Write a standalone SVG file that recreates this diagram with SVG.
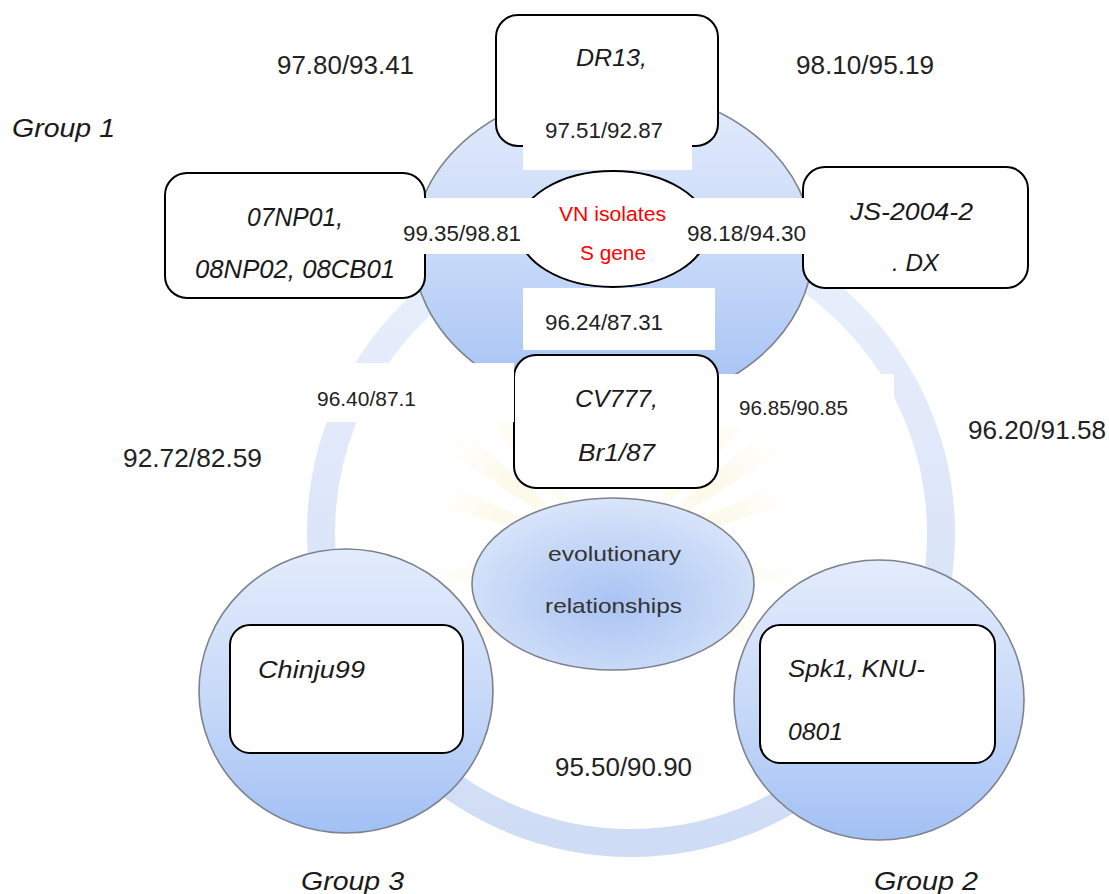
<svg xmlns="http://www.w3.org/2000/svg" width="1109" height="894" viewBox="0 0 1109 894">
<defs>
<linearGradient id="gBlue" x1="0" y1="0" x2="0" y2="1">
<stop offset="0" stop-color="#e3ecfc"/>
<stop offset="0.55" stop-color="#c6d8f8"/>
<stop offset="1" stop-color="#a2c0f4"/>
</linearGradient>
<linearGradient id="gRing" x1="0" y1="0" x2="0" y2="1">
<stop offset="0" stop-color="#eaf0fc"/>
<stop offset="1" stop-color="#cfdcf5"/>
</linearGradient>
<radialGradient id="gEvo" cx="0.5" cy="0.6" r="0.6">
<stop offset="0" stop-color="#a9c3f3"/>
<stop offset="1" stop-color="#d9e5fa"/>
</radialGradient>
<radialGradient id="gRay" cx="0.5" cy="0.5" r="0.5">
<stop offset="0.2" stop-color="#f7eab4" stop-opacity="0.25"/>
<stop offset="1" stop-color="#f7eab4" stop-opacity="0"/>
</radialGradient>
<style>
.bub{fill:url(#gBlue);stroke:#7d828c;stroke-width:1.6}
.box{fill:#fff;stroke:#000;stroke-width:2}
.wh{fill:#fff}
.num{font-family:"Liberation Sans",Arial,sans-serif;fill:#222}
.it{font-family:"Liberation Sans",Arial,sans-serif;font-style:italic;fill:#1a1a1a}
.red{font-family:"Liberation Sans",Arial,sans-serif;fill:#f00}
.evo{font-family:"Liberation Sans",Arial,sans-serif;fill:#333}
</style>
</defs>
<rect width="1109" height="894" fill="#fff"/>

<g id="watermark" fill="url(#gRay)">
<path d="M613 560 L420 470 L425 500 Z"/>
<path d="M613 560 L440 410 L430 440 Z"/>
<path d="M613 560 L480 370 L465 395 Z"/>
<path d="M613 560 L760 370 L775 395 Z"/>
<path d="M613 560 L790 410 L800 440 Z"/>
<path d="M613 560 L805 470 L800 500 Z"/>
<path d="M613 560 L420 560 L425 590 Z"/>
<path d="M613 560 L805 560 L800 590 Z"/>
<path d="M613 560 L430 640 L445 665 Z"/>
<path d="M613 560 L795 640 L780 665 Z"/>
</g>

<g id="connectors">
<circle cx="631" cy="533" r="310" fill="none" stroke="url(#gRing)" stroke-width="28"/>
</g>

<g id="group3">
<ellipse class="bub" cx="346" cy="691" rx="147" ry="142"/>
<rect class="box" x="230" y="625" width="233" height="128" rx="20"/>
<text class="it" x="258" y="678" font-size="23" textLength="107" lengthAdjust="spacingAndGlyphs">Chinju99</text>
</g>

<g id="group2">
<ellipse class="bub" cx="879" cy="700" rx="145" ry="140"/>
<rect class="box" x="760" y="625" width="235" height="138" rx="20"/>
<text class="it" x="788" y="677" font-size="23" textLength="137" lengthAdjust="spacingAndGlyphs">Spk1, KNU-</text>
<text class="it" x="788" y="740" font-size="23" textLength="55" lengthAdjust="spacingAndGlyphs">0801</text>
</g>

<g id="evolutionary">
<ellipse cx="613" cy="584" rx="141" ry="86" fill="url(#gEvo)" stroke="#7d828c" stroke-width="1.6"/>
<text class="evo" x="548" y="561" font-size="21" textLength="133" lengthAdjust="spacingAndGlyphs">evolutionary</text>
<text class="evo" x="545" y="613" font-size="21" textLength="137" lengthAdjust="spacingAndGlyphs">relationships</text>
</g>

<g id="group1">
<ellipse class="bub" cx="613" cy="248" rx="200" ry="160"/>
</g>

<g id="box-dr13">
<rect class="box" x="496" y="15" width="222" height="131" rx="22"/>
<text class="it" x="576" y="66" font-size="24" textLength="71" lengthAdjust="spacingAndGlyphs">DR13,</text>
</g>

<g id="box-07np01">
<rect class="box" x="165" y="173" width="260" height="125" rx="22"/>
<text class="it" x="247" y="226" font-size="25" textLength="96" lengthAdjust="spacingAndGlyphs">07NP01,</text>
<text class="it" x="195" y="278" font-size="25" textLength="200" lengthAdjust="spacingAndGlyphs">08NP02, 08CB01</text>
</g>

<g id="box-js2004">
<rect class="box" x="803" y="167" width="225" height="121" rx="22"/>
<text class="it" x="850" y="220" font-size="24" textLength="123" lengthAdjust="spacingAndGlyphs">JS-2004-2</text>
<text class="it" x="892" y="271" font-size="24" textLength="47" lengthAdjust="spacingAndGlyphs">. DX</text>
</g>

<g id="box-cv777">
<rect class="box" x="514" y="355" width="204" height="133" rx="22"/>
<text class="it" x="575" y="407" font-size="24" textLength="83" lengthAdjust="spacingAndGlyphs">CV777,</text>
<text class="it" x="578" y="461" font-size="24" textLength="77" lengthAdjust="spacingAndGlyphs">Br1/87</text>
</g>

<g id="vn-isolates">
<ellipse cx="613" cy="229" rx="95" ry="58" fill="#fff" stroke="#000" stroke-width="2"/>
</g>

<g id="labels">
<rect class="wh" x="523" y="118" width="169" height="52"/>
<rect class="wh" x="412" y="198" width="397" height="56"/>
<rect class="wh" x="523" y="288" width="192" height="62"/>
<rect class="wh" x="303" y="363" width="211" height="59"/>
<rect class="wh" x="719" y="374" width="175" height="54"/>

<text class="red" x="559" y="221" font-size="20.5" textLength="107" lengthAdjust="spacingAndGlyphs">VN isolates</text>
<text class="red" x="580" y="260" font-size="20.5" textLength="66" lengthAdjust="spacingAndGlyphs">S gene</text>

<text class="num" x="545" y="138" font-size="22" textLength="118" lengthAdjust="spacingAndGlyphs">97.51/92.87</text>
<text class="num" x="403" y="241" font-size="22" textLength="118" lengthAdjust="spacingAndGlyphs">99.35/98.81</text>
<text class="num" x="687" y="241" font-size="22" textLength="119" lengthAdjust="spacingAndGlyphs">98.18/94.30</text>
<text class="num" x="545" y="330" font-size="22" textLength="118" lengthAdjust="spacingAndGlyphs">96.24/87.31</text>
<text class="num" x="317" y="406" font-size="20" textLength="99" lengthAdjust="spacingAndGlyphs">96.40/87.1</text>
<text class="num" x="739" y="415" font-size="20" textLength="109" lengthAdjust="spacingAndGlyphs">96.85/90.85</text>

<text class="num" x="277" y="74" font-size="25" textLength="137" lengthAdjust="spacingAndGlyphs">97.80/93.41</text>
<text class="num" x="796" y="74" font-size="25" textLength="138" lengthAdjust="spacingAndGlyphs">98.10/95.19</text>
<text class="num" x="968" y="439" font-size="25" textLength="138" lengthAdjust="spacingAndGlyphs">96.20/91.58</text>
<text class="num" x="123" y="467" font-size="25" textLength="139" lengthAdjust="spacingAndGlyphs">92.72/82.59</text>
<text class="num" x="555" y="776" font-size="25" textLength="137" lengthAdjust="spacingAndGlyphs">95.50/90.90</text>

<text class="it" x="12" y="137" font-size="25" textLength="103" lengthAdjust="spacingAndGlyphs">Group 1</text>
<text class="it" x="301" y="890" font-size="25" textLength="103" lengthAdjust="spacingAndGlyphs">Group 3</text>
<text class="it" x="874" y="890" font-size="25" textLength="104" lengthAdjust="spacingAndGlyphs">Group 2</text>
</g>
</svg>
